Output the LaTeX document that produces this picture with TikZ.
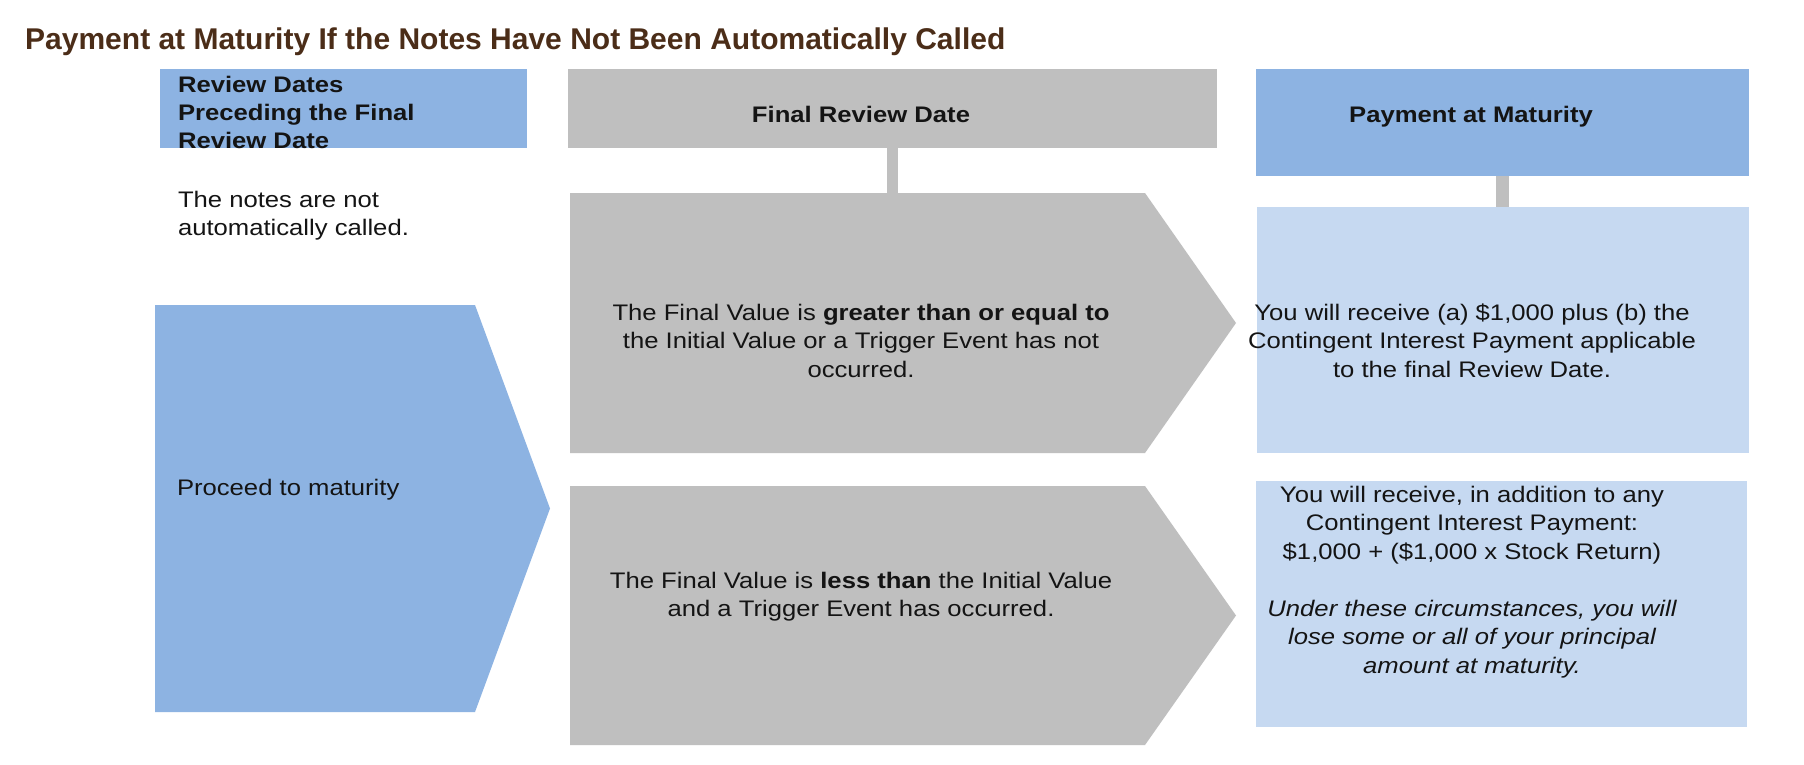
\documentclass[tikz,border=0pt]{standalone}
\usepackage{fontspec}
\setmainfont{Liberation Sans}
\newfontfamily\bodyfont[FakeStretch=1.14]{Liberation Sans}
\newfontfamily\titlefont{Liberation Sans}

\definecolor{headblue}{HTML}{8DB3E2}
\definecolor{paleblue}{HTML}{C6D9F1}
\definecolor{stepgrey}{HTML}{BFBFBF}
\definecolor{titlebrown}{HTML}{4B2D18}
\definecolor{ink}{HTML}{141414}

% a block of lines whose reference point is the first baseline
\newcommand\txtlines[2]{\begin{tabular}[t]{@{}#1@{}}#2\end{tabular}}

\tikzset{
  panel/.style={rectangle, draw=none, inner sep=0pt, outer sep=0pt, anchor=north west},
  txt/.style={inner sep=0pt, outer sep=0pt, anchor=base, text=ink,
              font=\bodyfont\fontsize{22.5pt}{28.5pt}\selectfont},
  txtl/.style={txt, anchor=base west},
  link/.style={draw=stepgrey, line width=12pt},
}

\begin{document}
\begin{tikzpicture}[x=1pt,y=-1pt]
\useasboundingbox (0,0) rectangle (1804,764);
\fill[white] (0,0) rectangle (1804,764);

% title
\node[inner sep=0pt, anchor=base west, text=titlebrown,
      font=\titlefont\bfseries\fontsize{30pt}{36pt}\selectfont] (title) at (25,49)
  {Payment at Maturity If the Notes Have Not Been Automatically Called};

% column heads
\node[panel, fill=headblue, minimum width=367pt, minimum height=79pt] (prevhead) at (160,69) {};
\node[panel, fill=stepgrey, minimum width=649pt, minimum height=79pt] (finalhead) at (568,69) {};
\node[panel, fill=headblue, minimum width=493pt, minimum height=107pt] (payhead) at (1256,69) {};

% left column: chevron
\node[panel, minimum width=320pt, minimum height=407pt] (proceed) at (155,305) {};
\fill[headblue] (proceed.north west) -- (proceed.north east) -- ([xshift=75pt]proceed.east)
  -- (proceed.south east) -- (proceed.south west) -- cycle;

% middle column: two chevrons
\node[panel, minimum width=575pt, minimum height=260pt] (up) at (570,193) {};
\fill[stepgrey] (up.north west) -- (up.north east) -- ([xshift=91pt]up.east)
  -- (up.south east) -- (up.south west) -- cycle;
\node[panel, minimum width=575pt, minimum height=259pt] (down) at (570,486) {};
\fill[stepgrey] (down.north west) -- (down.north east) -- ([xshift=91pt]down.east)
  -- (down.south east) -- (down.south west) -- cycle;

% right column: outcomes
\node[panel, fill=paleblue, minimum width=492pt, minimum height=246pt] (gain) at (1257,207) {};
\node[panel, fill=paleblue, minimum width=491pt, minimum height=246pt] (loss) at (1256,481) {};

% connectors
\draw[link, line width=11pt] (finalhead.south) -- (finalhead.south |- up.north);
\draw[link, line width=13pt] (payhead.south) -- (payhead.south |- gain.north);

% texts
\node[txtl, font=\bodyfont\bfseries\fontsize{22.5pt}{28pt}\selectfont] (prevtxt) at (178,92)
  {\txtlines{l}{Review Dates\\Preceding the Final\\Review Date}};
\node[txtl] (notcalled) at (178,207)
  {\txtlines{l}{The notes are not\\automatically called.}};
\node[txtl] (proceedtxt) at (177,495) {Proceed to maturity};

\node[txt, font=\bodyfont\bfseries\fontsize{22.5pt}{28.5pt}\selectfont] (finaltxt) at (861,122)
  {Final Review Date};
\node[txt, font=\bodyfont\bfseries\fontsize{22.5pt}{28.5pt}\selectfont] (paytxt) at (1471,122)
  {Payment at Maturity};

\node[txt] (uptxt) at (861,320)
  {\txtlines{c}{The Final Value is \textbf{greater than or equal to}\\
   the Initial Value or a Trigger Event has not\\occurred.}};
\node[txt] (downtxt) at (861,588)
  {\txtlines{c}{The Final Value is \textbf{less than} the Initial Value\\
   and a Trigger Event has occurred.}};

\node[txt] (gaintxt) at (1472,320)
  {\txtlines{c}{You will receive (a) \$1,000 plus (b) the\\
   Contingent Interest Payment applicable\\to the final Review Date.}};
\node[txt] (losstxt) at (1472,502)
  {\txtlines{c}{You will receive, in addition to any\\
   Contingent Interest Payment:\\
   \$1,000 + (\$1,000 x Stock Return)\\[28.5pt]
   \itshape Under these circumstances, you will\\
   \itshape lose some or all of your principal\\
   \itshape amount at maturity.}};
\end{tikzpicture}
\end{document}
